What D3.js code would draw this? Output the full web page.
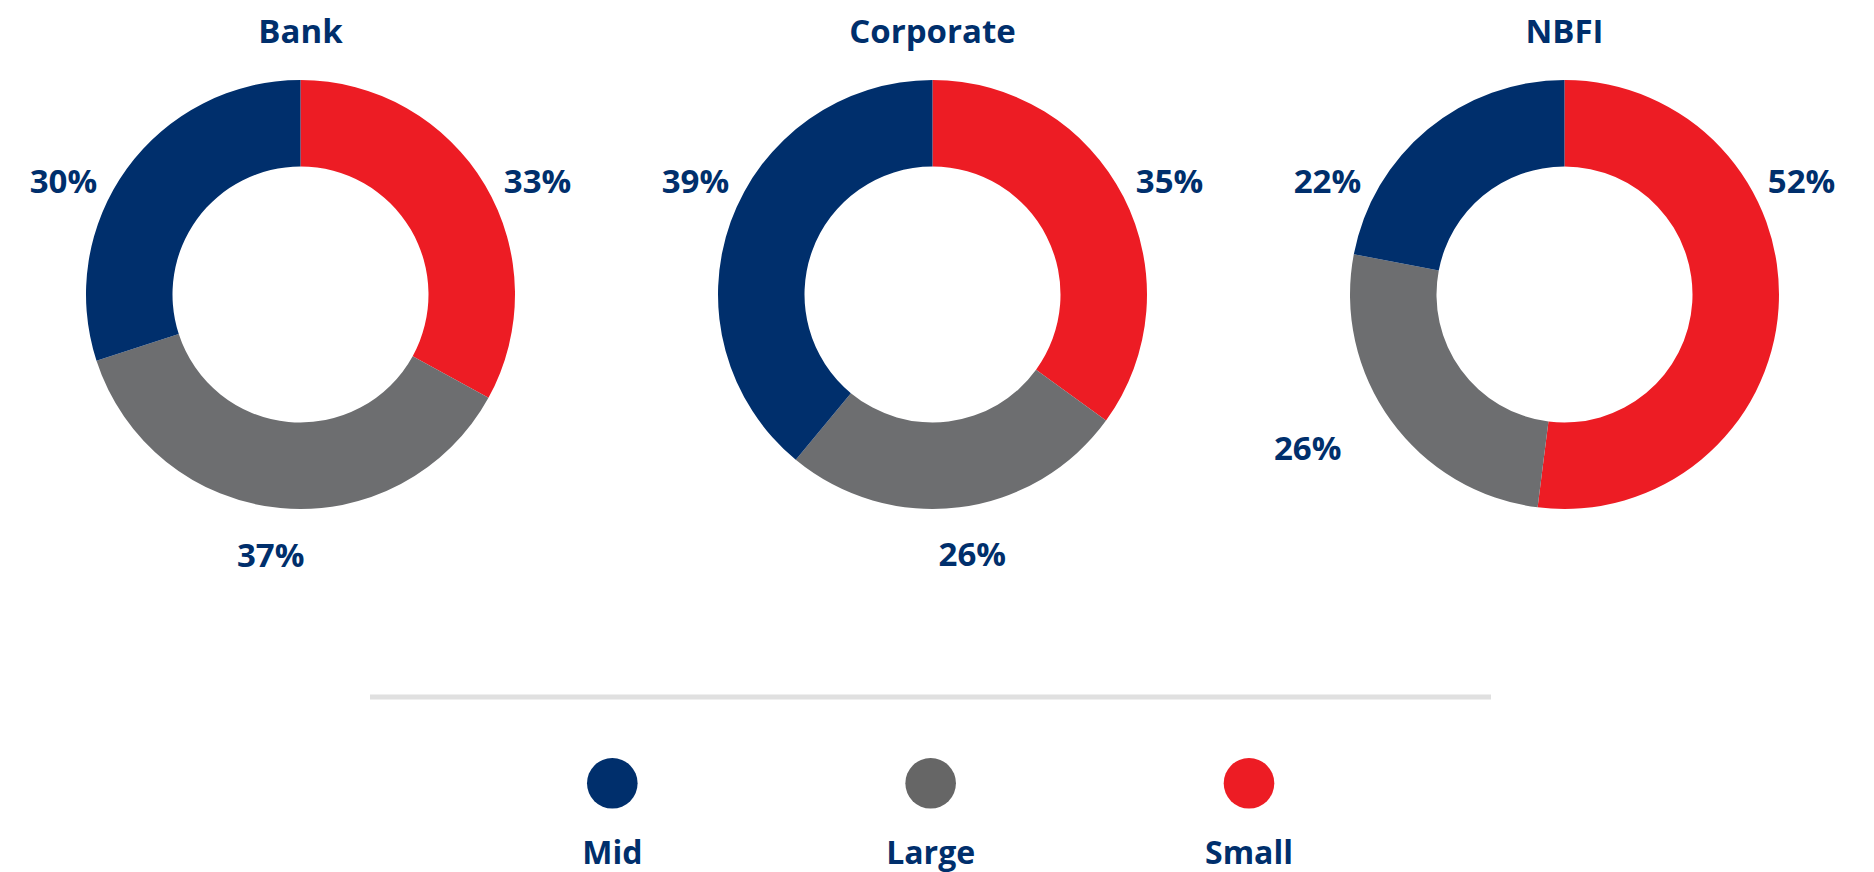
<!DOCTYPE html>
<html>
<head>
<meta charset="utf-8">
<script src="https://cdn.jsdelivr.net/npm/d3@7"></script>
<style>
  html, body { margin: 0; padding: 0; background: #ffffff; }
  svg { display: block; }
  text { font-family: "Open Sans", Lato, sans-serif; font-weight: 700; fill: #002F6C; }
</style>
</head>
<body>
<svg id="chart" width="1874" height="872"></svg>
<script>
// Share of exposure by firm size, per counterparty type (%)
const groups = ["Bank", "Corporate", "NBFI"];
const seriesNames = ["Mid", "Large", "Small"];
const midShare = [30, 39, 22];
const largeShare = [37, 26, 26];
const smallShare = [33, 35, 52];

// Slices run clockwise from 12 o'clock in this order
const sliceOrder = ["Small", "Large", "Mid"];
const valuesBySeries = { Mid: midShare, Large: largeShare, Small: smallShare };

const outerR = 214.5, innerR = 128;
const centerY = 294.5;
const fontSize = 33;

const svg = d3.select("#chart");

const color = d3.scaleOrdinal()
  .domain(seriesNames)
  .range(["#002F6C", "#6D6E70", "#ED1C24"]);
const legendColor = d3.scaleOrdinal()
  .domain(seriesNames)
  .range(["#002F6C", "#666666", "#ED1C24"]);

const xGroup = d3.scalePoint().domain(groups).range([300.5, 1564.5]);

const pie = d3.pie().sort(null).value(d => d.value);
const arc = d3.arc().innerRadius(innerR).outerRadius(outerR);

// Upper "shoulder" row for labels: slices crossing it get their label on that row
const rowDy = -113;
const rowAngle = Math.acos(-rowDy / outerR);           // angle from 12 o'clock
const rowHalfChord = Math.sqrt(outerR * outerR - rowDy * rowDy);
const rowGap = 21;
const labelRadius = 250;

groups.forEach((g, gi) => {
  const cx = xGroup(g);
  const data = sliceOrder.map(s => ({ key: s, value: valuesBySeries[s][gi] }));
  const arcs = pie(data);

  const gEl = svg.append("g").attr("transform", `translate(${cx},${centerY})`);

  gEl.selectAll("path.slice")
    .data(arcs)
    .join("path")
    .attr("class", "slice")
    .attr("d", arc)
    .attr("fill", d => color(d.data.key));

  // Title above each ring
  svg.append("text")
    .attr("x", cx)
    .attr("y", 43)
    .attr("text-anchor", "middle")
    .attr("font-size", fontSize)
    .text(g);

  // Percentage labels
  arcs.forEach(d => {
    const label = gEl.append("text")
      .attr("font-size", fontSize)
      .text(d.data.value + "%");
    const bb = label.node().getBBox();
    const hw = bb.width / 2;
    const hh = 12;
    let x, y;
    const rightSlot = rowAngle, leftSlot = 2 * Math.PI - rowAngle;
    if (d.startAngle <= rightSlot && d.endAngle >= rightSlot) {
      x = rowHalfChord + rowGap + hw;
      y = rowDy;
    } else if (d.startAngle <= leftSlot && d.endAngle >= leftSlot) {
      x = -(rowHalfChord + rowGap + hw);
      y = rowDy;
    } else {
      const a = (d.startAngle + d.endAngle) / 2;
      const ux = Math.sin(a), uy = -Math.cos(a);
      x = labelRadius * ux + 2 * hw * ux;
      y = labelRadius * uy + hh * uy;
    }
    label
      .attr("x", x)
      .attr("y", y)
      .attr("text-anchor", "middle")
      .attr("dy", "0.36em");
  });
});

// Separator above legend
svg.append("rect")
  .attr("x", 370)
  .attr("y", 694.5)
  .attr("width", 1121)
  .attr("height", 5)
  .attr("fill", "#E0E0E0");

// Legend
const xLegend = d3.scalePoint().domain(seriesNames).range([612.3, 1249]);
const legend = svg.append("g");
legend.selectAll("circle")
  .data(seriesNames)
  .join("circle")
  .attr("cx", d => xLegend(d))
  .attr("cy", 783.3)
  .attr("r", 25.3)
  .attr("fill", d => legendColor(d));
legend.selectAll("text")
  .data(seriesNames)
  .join("text")
  .attr("x", d => xLegend(d))
  .attr("y", 864)
  .attr("text-anchor", "middle")
  .attr("font-size", 32)
  .text(d => d);
</script>
</body>
</html>
